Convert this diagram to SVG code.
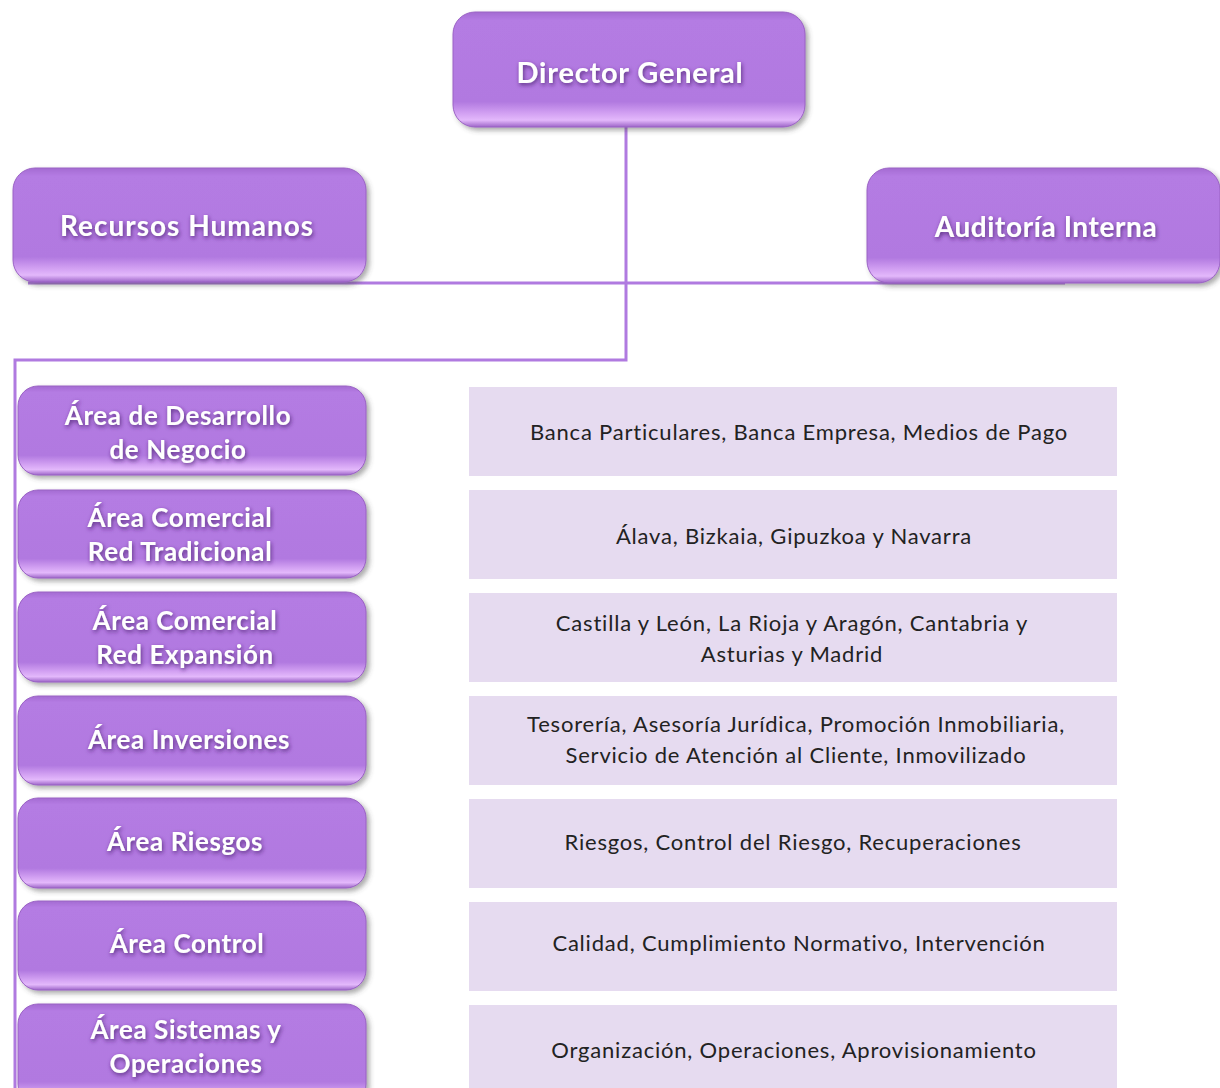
<svg xmlns="http://www.w3.org/2000/svg" width="1220" height="1088" viewBox="0 0 1220 1088">
<defs>
<linearGradient id="pg" x1="0" y1="0" x2="0" y2="1">
<stop offset="0" stop-color="#a46bd2"/>
<stop offset="0.07" stop-color="#b47be3"/>
<stop offset="0.78" stop-color="#b179e0"/>
<stop offset="0.88" stop-color="#d2a0f2"/>
<stop offset="0.94" stop-color="#e3b8fb"/>
<stop offset="1" stop-color="#9d65c8"/>
</linearGradient>
<filter id="bs" x="-10%" y="-10%" width="125%" height="130%">
<feDropShadow dx="3" dy="3" stdDeviation="2.5" flood-color="#444" flood-opacity="0.45"/>
</filter>
<filter id="ts" x="-10%" y="-30%" width="120%" height="170%">
<feDropShadow dx="1" dy="2" stdDeviation="2" flood-color="#4b2470" flood-opacity="0.85"/>
</filter>
<style>
.pb{fill:url(#pg);stroke:#9a62c4;stroke-width:1;filter:url(#bs)}
.lb{fill:#e6dbf0}
.pt{font-family:Lato,"Open Sans","Liberation Sans",sans-serif;font-weight:bold;fill:#fff;text-anchor:middle;filter:url(#ts)}
.s1{font-size:26px;letter-spacing:0.6px}
.lt{font-family:Lato,"Open Sans","Liberation Sans",sans-serif;font-size:22px;letter-spacing:0.8px;fill:#222;text-anchor:middle}
.cn{fill:none;stroke:#b07ae0;stroke-width:3}
</style>
</defs>
<rect width="1220" height="1088" fill="#fff"/>
<g id="connectors">
<path class="cn" d="M626 127 V360 H15 V1088"/>
<path class="cn" d="M28 283 H1065"/>
</g>
<g id="n-director">
<rect class="pb" x="453" y="12" width="352" height="115" rx="22"/>
<text class="pt" x="630" y="83" font-size="29" letter-spacing="0.8">Director General</text>
</g>
<g id="n-rrhh">
<rect class="pb" x="13" y="168" width="353" height="114" rx="22"/>
<text class="pt" x="187" y="236" font-size="28" letter-spacing="1">Recursos Humanos</text>
</g>
<g id="n-auditoria">
<rect class="pb" x="867" y="168" width="353" height="115" rx="22"/>
<text class="pt" x="1046" y="237" font-size="28" letter-spacing="0.6">Auditoría Interna</text>
</g>
<g id="n-a1">
<rect class="pb" x="18" y="386" width="348" height="89" rx="20"/>
<text class="pt s1"><tspan x="178" y="425">Área de Desarrollo</tspan><tspan x="178" y="459">de Negocio</tspan></text>
</g>
<g id="n-a2">
<rect class="pb" x="18" y="490" width="348" height="88" rx="20"/>
<text class="pt s1"><tspan x="180" y="527">Área Comercial</tspan><tspan x="180" y="561">Red Tradicional</tspan></text>
</g>
<g id="n-a3">
<rect class="pb" x="18" y="592" width="348" height="90" rx="20"/>
<text class="pt s1"><tspan x="185" y="630">Área Comercial</tspan><tspan x="185" y="664">Red Expansión</tspan></text>
</g>
<g id="n-a4">
<rect class="pb" x="18" y="696" width="348" height="89" rx="20"/>
<text class="pt s1" x="189" y="749">Área Inversiones</text>
</g>
<g id="n-a5">
<rect class="pb" x="18" y="798" width="348" height="90" rx="20"/>
<text class="pt s1" x="185" y="851">Área Riesgos</text>
</g>
<g id="n-a6">
<rect class="pb" x="18" y="901" width="348" height="89" rx="20"/>
<text class="pt s1" x="187" y="953">Área Control</text>
</g>
<g id="n-a7">
<rect class="pb" x="18" y="1004" width="348" height="100" rx="20"/>
<text class="pt s1"><tspan x="186" y="1039">Área Sistemas y</tspan><tspan x="186" y="1073">Operaciones</tspan></text>
</g>
<g id="n-d1">
<rect class="lb" x="469" y="387" width="648" height="89"/>
<text class="lt" x="799" y="440">Banca Particulares, Banca Empresa, Medios de Pago</text>
</g>
<g id="n-d2">
<rect class="lb" x="469" y="490" width="648" height="89"/>
<text class="lt" x="794" y="544">Álava, Bizkaia, Gipuzkoa y Navarra</text>
</g>
<g id="n-d3">
<rect class="lb" x="469" y="593" width="648" height="89"/>
<text class="lt"><tspan x="792" y="631">Castilla y León, La Rioja y Aragón, Cantabria y</tspan><tspan x="792" y="662">Asturias y Madrid</tspan></text>
</g>
<g id="n-d4">
<rect class="lb" x="469" y="696" width="648" height="89"/>
<text class="lt"><tspan x="796" y="732">Tesorería, Asesoría Jurídica, Promoción Inmobiliaria,</tspan><tspan x="796" y="763">Servicio de Atención al Cliente, Inmovilizado</tspan></text>
</g>
<g id="n-d5">
<rect class="lb" x="469" y="799" width="648" height="89"/>
<text class="lt" x="793" y="850">Riesgos, Control del Riesgo, Recuperaciones</text>
</g>
<g id="n-d6">
<rect class="lb" x="469" y="902" width="648" height="89"/>
<text class="lt" x="799" y="951">Calidad, Cumplimiento Normativo, Intervención</text>
</g>
<g id="n-d7">
<rect class="lb" x="469" y="1005" width="648" height="90"/>
<text class="lt" x="794" y="1058">Organización, Operaciones, Aprovisionamiento</text>
</g>
</svg>
